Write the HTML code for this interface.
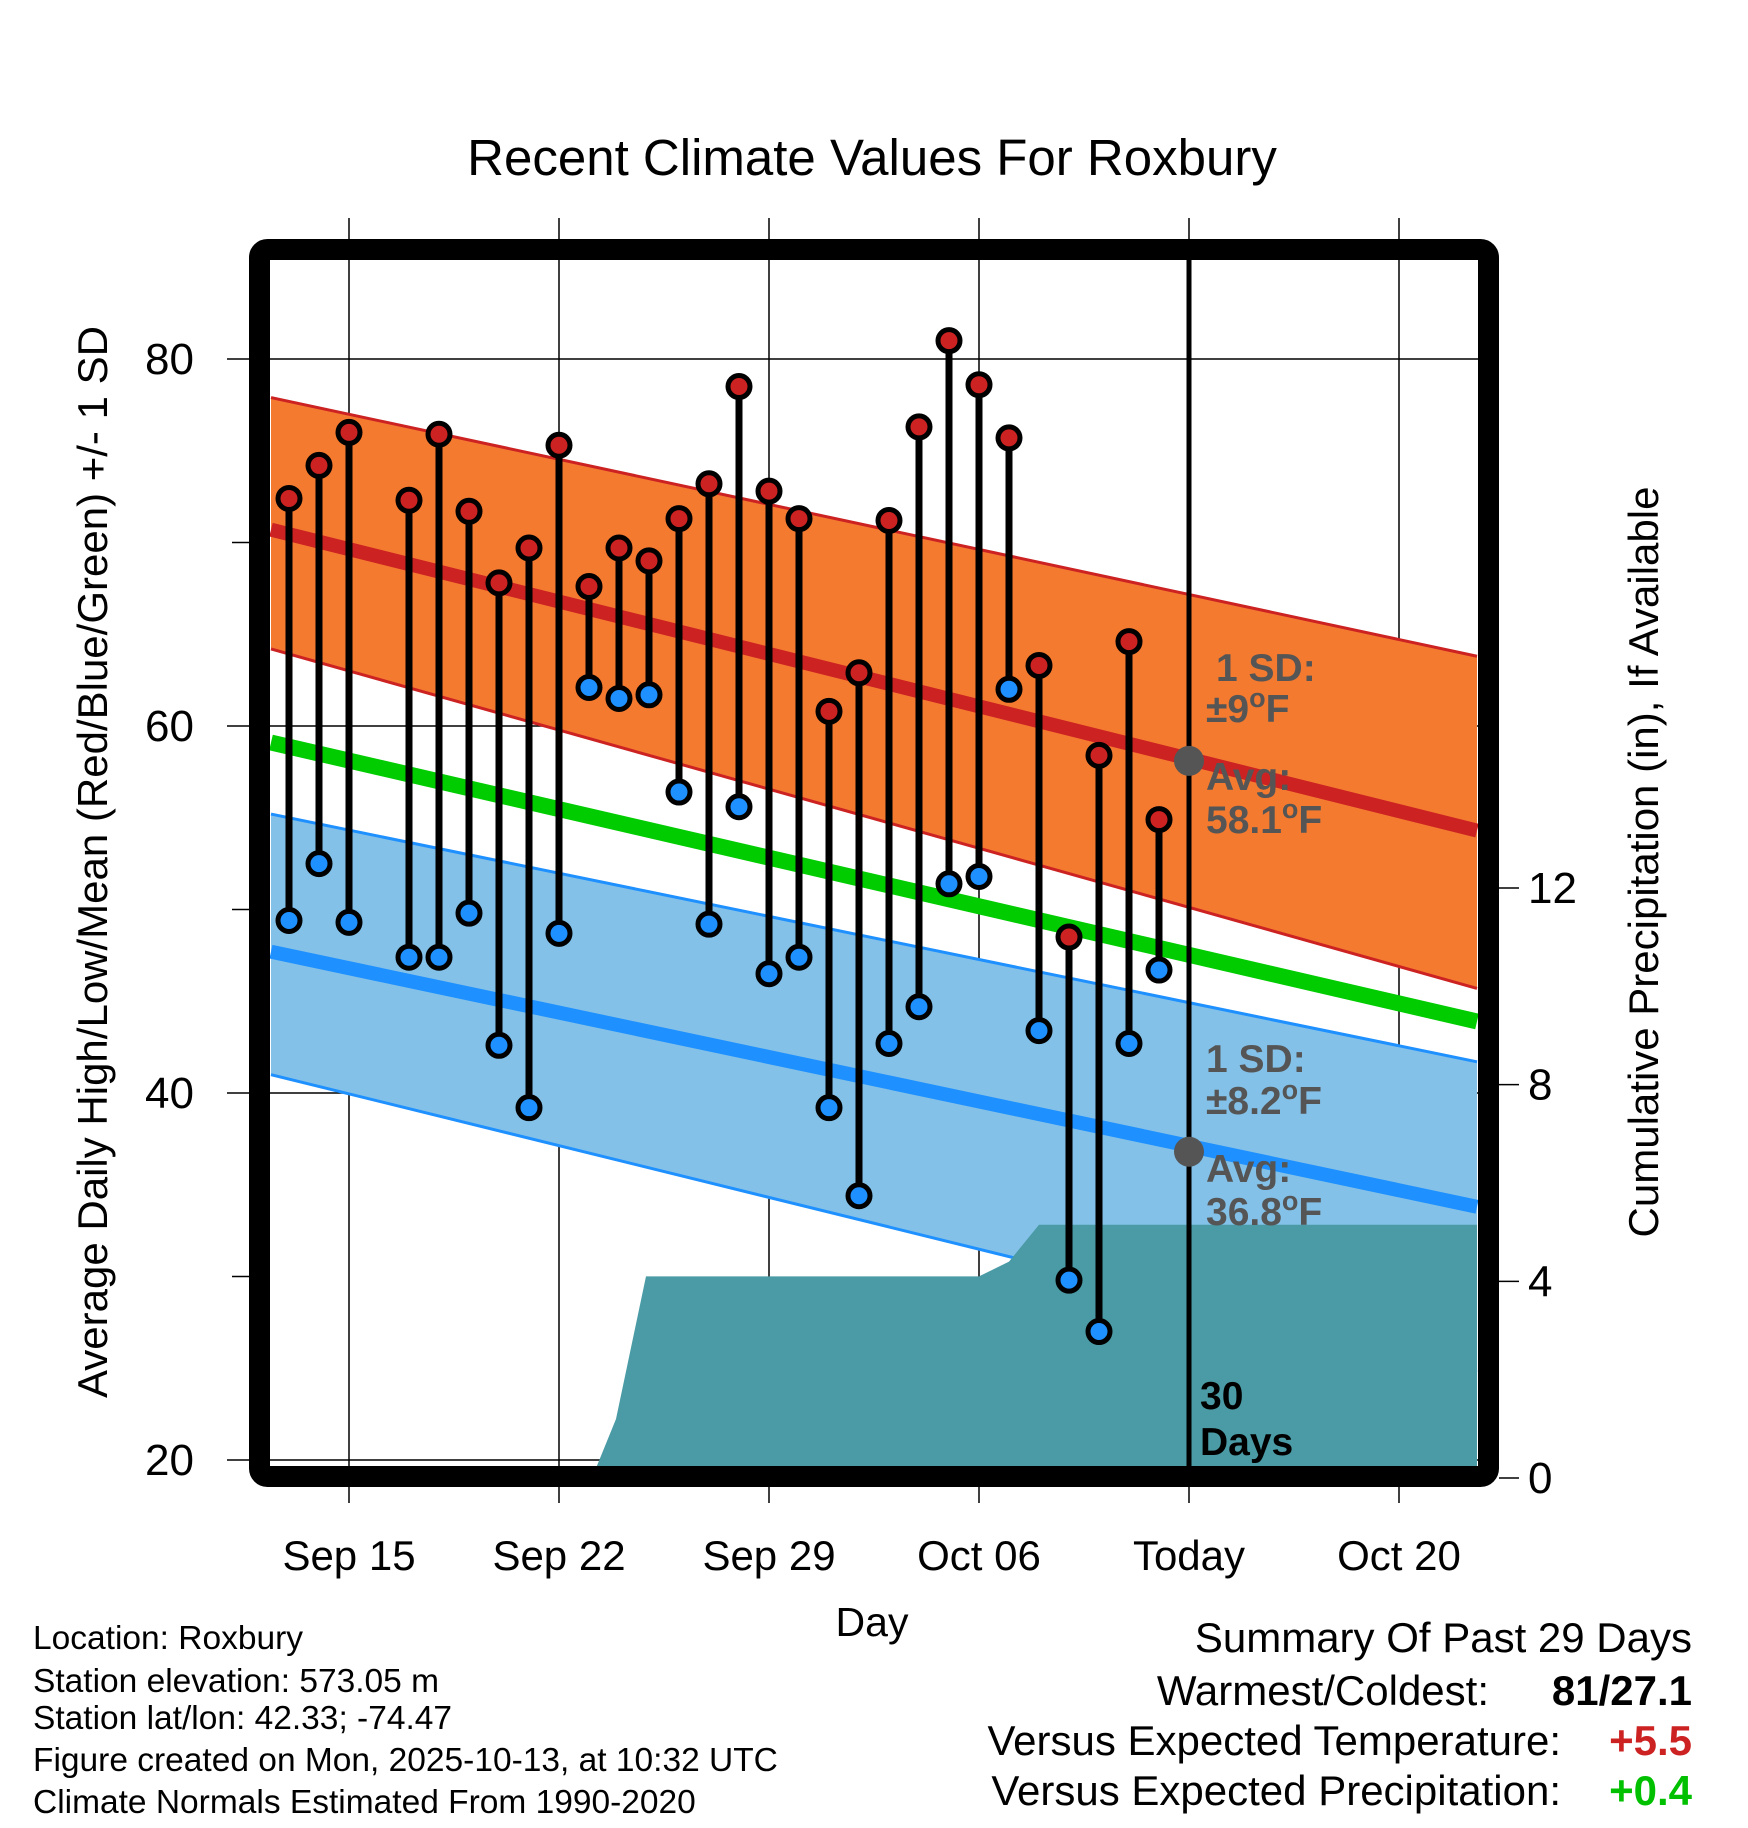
<!DOCTYPE html>
<html><head><meta charset="utf-8"><style>
html,body{margin:0;padding:0;background:#fff}
svg{display:block;font-family:"Liberation Sans",sans-serif}
</style></head><body>
<svg id="chart" width="1748" height="1828" viewBox="0 0 1748 1828" xmlns="http://www.w3.org/2000/svg">
<defs><clipPath id="plotclip"><rect x="270" y="260" width="1208" height="1206"/></clipPath></defs>
<g id="gridG"></g>
<g id="plotG" clip-path="url(#plotclip)"></g>
<g id="marksG"></g>
<rect x="259.5" y="249.5" width="1229" height="1227" rx="8" fill="none" stroke="#000" stroke-width="21"/>
<g id="axesG"></g>
<text x="872" y="175" font-size="51" text-anchor="middle">Recent Climate Values For Roxbury</text>
<text x="872" y="1636" font-size="41" text-anchor="middle">Day</text>
<text transform="translate(107,862) rotate(-90)" font-size="42" text-anchor="middle">Average Daily High/Low/Mean (Red/Blue/Green) +/- 1 SD</text>
<text transform="translate(1658,862) rotate(-90)" font-size="42" text-anchor="middle">Cumulative Precipitation (in), If Available</text>
<g font-size="33.5">
<text x="33" y="1649">Location: Roxbury</text>
<text x="33" y="1692">Station elevation: 573.05 m</text>
<text x="33" y="1729">Station lat/lon: 42.33; -74.47</text>
<text x="33" y="1771">Figure created on Mon, 2025-10-13, at 10:32 UTC</text>
<text x="33" y="1813">Climate Normals Estimated From 1990-2020</text>
</g>
<g font-size="42">
<text x="1692" y="1652" text-anchor="end">Summary Of Past 29 Days</text>
<text x="1489" y="1705" text-anchor="end">Warmest/Coldest:</text>
<text x="1692" y="1705" text-anchor="end" font-weight="bold">81/27.1</text>
<text x="1561" y="1755" text-anchor="end">Versus Expected Temperature:</text>
<text x="1692" y="1755" text-anchor="end" font-weight="bold" fill="#cc2222">+5.5</text>
<text x="1561" y="1805" text-anchor="end">Versus Expected Precipitation:</text>
<text x="1692" y="1805" text-anchor="end" font-weight="bold" fill="#00c000">+0.4</text>
</g>
</svg>
<script>
const days=[-2,-1,0,2,3,4,5,6,7,8,9,10,11,12,13,14,15,16,17,18,19,20,21,22,23,24,25,26,27];
const highs=[72.4,74.2,76.0,72.3,75.9,71.7,67.8,69.7,75.3,67.6,69.7,69.0,71.3,73.2,78.5,72.8,71.3,60.8,62.9,71.2,76.3,81.0,78.6,75.7,63.3,48.5,58.4,64.6,54.9];
const lows=[49.4,52.5,49.3,47.4,47.4,49.8,42.6,39.2,48.7,62.1,61.5,61.7,56.4,49.2,55.6,46.5,47.4,39.2,34.4,42.7,44.7,51.4,51.8,62.0,43.4,29.8,27.0,42.7,46.7];
const normDays=[-2.6,37.6];
const normHigh=[70.7,54.3];
const normHighUpper=[77.9,63.8];
const normHighLower=[64.2,45.7];
const normMean=[59.1,43.9];
const normLow=[47.7,33.8];
const normLowUpper=[55.2,41.7];
const normLowLower=[41.0,24.8];
const precipDays=[8.1,8.9,9.9,21.0,22.0,23.0,37.6];
const precipVals=[0,1.2,4.1,4.1,4.4,5.15,5.15];
const tickDays=[0,7,14,21,28,35];
const tickLabels=["Sep 15","Sep 22","Sep 29","Oct 06","Today","Oct 20"];
const yTicks=[80,60,40,20];
const yMinor=[70,50,30];
const pTicks=[0,4,8,12];
const todayDay=28;

const X=d=>349+30*d;
const Y=v=>359+(80-v)*18.35;
const P=p=>1478-p*49.17;
const NS="http://www.w3.org/2000/svg";
function mk(tag,attrs,parent){const e=document.createElementNS(NS,tag);for(const k in attrs)e.setAttribute(k,attrs[k]);parent.appendChild(e);return e;}
const grid=document.getElementById('gridG'),plot=document.getElementById('plotG'),marks=document.getElementById('marksG'),axes=document.getElementById('axesG');

tickDays.forEach((d,i)=>{
  const l=mk('line',{x1:X(d),x2:X(d),y1:218,y2:1503,stroke:'#000','stroke-width':1.5},grid);
  
  
  const t=mk('text',{x:X(d),y:1570,'font-size':42,'text-anchor':'middle'},axes);
  t.textContent=tickLabels[i];
  
  
});
yTicks.forEach(v=>{
  const l=mk('line',{x1:227,x2:1499,y1:Y(v),y2:Y(v),stroke:'#000','stroke-width':1.5},grid);
  
  
  const t=mk('text',{x:194,y:Y(v)+15,'font-size':44,'text-anchor':'end'},axes);
  t.textContent=v;
  
  
});
yMinor.forEach(v=>{
  const l=mk('line',{x1:232,x2:250,y1:Y(v),y2:Y(v),stroke:'#000','stroke-width':1.5},axes);
  
  
});
pTicks.forEach(p=>{
  const l=mk('line',{x1:1499,x2:1519,y1:P(p),y2:P(p),stroke:'#000','stroke-width':1.5},axes);
  
  
  const t=mk('text',{x:1528,y:P(p)+15,'font-size':44},axes);
  t.textContent=p;
  
  
});

function band(up,lo,fill,edge,name){
  const pts=[X(normDays[0])+','+Y(up[0]),X(normDays[1])+','+Y(up[1]),X(normDays[1])+','+Y(lo[1]),X(normDays[0])+','+Y(lo[0])].join(' ');
  const b=mk('polygon',{points:pts,fill:fill},plot);
  
  
  [up,lo].forEach(a=>{mk('line',{x1:X(normDays[0]),y1:Y(a[0]),x2:X(normDays[1]),y2:Y(a[1]),stroke:edge,'stroke-width':3},plot);});
}
function nline(a,color,w,name){
  const l=mk('line',{x1:X(normDays[0]),y1:Y(a[0]),x2:X(normDays[1]),y2:Y(a[1]),stroke:color,'stroke-width':w},plot);
  
  
}
band(normHighUpper,normHighLower,'#f47a30','#cc2222','high-sd-band');
band(normLowUpper,normLowLower,'#83c1e8','#1e90ff','low-sd-band');
nline(normHigh,'#cc2222',14,'normal-high-line');
nline(normLow,'#1e90ff',14,'normal-low-line');
nline(normMean,'#00cc00',16,'normal-mean-line');

let pp=precipDays.map((d,i)=>X(d)+','+P(precipVals[i]));
pp.push(X(precipDays[precipDays.length-1])+','+P(0));
pp.push(X(precipDays[0])+','+P(0));
const pa=mk('polygon',{points:pp.join(' '),fill:'#4a9ba5'},plot);



const tl=mk('line',{x1:X(todayDay),x2:X(todayDay),y1:255,y2:1470,stroke:'#000','stroke-width':5},marks);



days.forEach((d,i)=>{
  const s=mk('line',{x1:X(d),x2:X(d),y1:Y(highs[i]),y2:Y(lows[i]),stroke:'#000','stroke-width':7},marks);
  
  
  const h=mk('circle',{cx:X(d),cy:Y(highs[i]),r:11,fill:'#cc2222',stroke:'#000','stroke-width':5},marks);
  
  
  const lo=mk('circle',{cx:X(d),cy:Y(lows[i]),r:11,fill:'#1e90ff',stroke:'#000','stroke-width':5},marks);
  
  
});

const todayHigh=58.1,todayLow=36.8;
[todayHigh,todayLow].forEach(v=>{
  const c=mk('circle',{cx:X(todayDay),cy:Y(v),r:15,fill:'#555'},marks);
  
  
});

function txt(x,y,html,fill,name){
  const t=mk('text',{x:x,y:y,'font-size':39,'font-weight':'bold',fill:fill},marks);
  t.innerHTML=html;
  
  
}
const deg='<tspan dy="-15" font-size="27">o</tspan><tspan dy="15">F</tspan>';
txt(1216,681,'1 SD:','#555','high-sd-label');
txt(1206,722,'±9'+deg,'#555','high-sd-value');
txt(1206,790,'Avg:','#555','high-avg-label');
txt(1206,833,'58.1'+deg,'#555','high-avg-value');
txt(1206,1072,'1 SD:','#555','low-sd-label');
txt(1206,1114,'±8.2'+deg,'#555','low-sd-value');
txt(1206,1182,'Avg:','#555','low-avg-label');
txt(1206,1225,'36.8'+deg,'#555','low-avg-value');
txt(1200,1409,'30','#000','days-label');
txt(1200,1455,'Days','#000','days-label-2');
</script>
</body></html>
